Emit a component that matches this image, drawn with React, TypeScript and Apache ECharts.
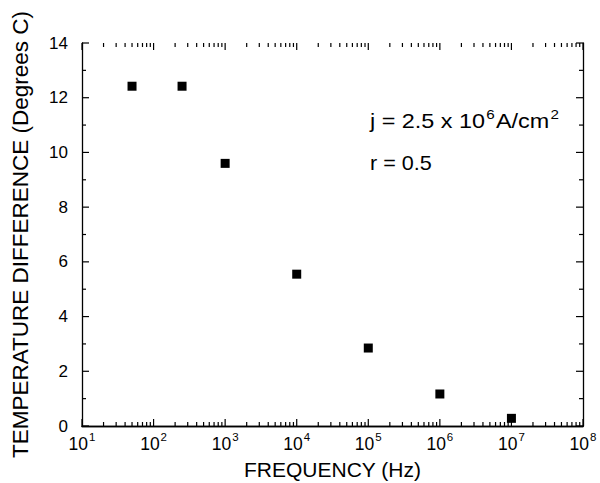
import React, { useEffect, useRef } from "react";
import * as echarts from "echarts";

const frequencies = [50, 250, 1e3, 1e4, 1e5, 1e6, 1e7];
const tempDiff = [12.42, 12.42, 9.6, 5.55, 2.85, 1.17, 0.28];
const minorTickMultipliers = [2, 3, 4, 5, 6, 7, 8, 9];
const decades = [1, 2, 3, 4, 5, 6, 7];
const yTickValues = [0, 1, 2, 3, 4, 5, 6, 7, 8, 9, 10, 11, 12, 13, 14];
const xTitle = "FREQUENCY (Hz)";
const yTitle = "TEMPERATURE DIFFERENCE (Degrees C)";

const FONT = "'Liberation Sans', Arial, Helvetica, sans-serif";
const X_MIN = 10;
const X_MAX = 1e8;
const Y_MIN = 0;
const Y_MAX = 14;

export default function App() {
  const ref = useRef<HTMLDivElement>(null);
  useEffect(() => {
    if (!ref.current) return;
    const chart = echarts.init(ref.current, null, { renderer: "svg" });

    // x ticks: [value, 0, length]
    const xTicks: number[][] = [];
    decades.forEach((d) => {
      xTicks.push([Math.pow(10, d), 0, 7]);
      minorTickMultipliers.forEach((m) => xTicks.push([m * Math.pow(10, d), 0, 4]));
    });
    xTicks.push([Math.pow(10, 8), 0, 7]);
    // y ticks: [xmin, value, length]
    const yTicks: number[][] = yTickValues.map((v) => [X_MIN, v, v % 2 === 0 ? 7 : 4]);

    const axisLine = { show: true, lineStyle: { color: "#000", width: 1.3 } };
    const xBase = {
      type: "log" as const,
      logBase: 10,
      min: X_MIN,
      max: X_MAX,
      splitNumber: 7,
      axisLine,
      axisTick: { show: false },
      splitLine: { show: false },
    };
    const yBase = {
      type: "value" as const,
      min: Y_MIN,
      max: Y_MAX,
      interval: 2,
      axisLine,
      axisTick: { show: false },
      splitLine: { show: false },
    };
    const line = (x1: number, y1: number, x2: number, y2: number) => ({
      type: "line",
      shape: { x1, y1, x2, y2 },
      style: { stroke: "#000", lineWidth: 1.2 },
    });
    chart.setOption({
      animation: false,
      backgroundColor: "#fff",
      textStyle: { fontFamily: FONT },
      grid: { left: 82, right: 17, top: 43, bottom: 57, containLabel: false, outerBoundsMode: "none" },
      xAxis: [
        {
          ...xBase,
          position: "bottom",
          name: xTitle,
          nameLocation: "middle",
          nameGap: 33,
          nameTextStyle: { fontSize: 21, color: "#000", fontFamily: FONT },
          axisLabel: {
            margin: 8,
            color: "#000",
            fontSize: 17,
            fontFamily: FONT,
            formatter: (v: number) => `{b|10}{s|${Math.round(Math.log10(v))}}`,
            rich: {
              b: { fontSize: 17.5, color: "#000", fontFamily: FONT, verticalAlign: "bottom", lineHeight: 19 },
              s: { fontSize: 11.5, color: "#000", fontFamily: FONT, verticalAlign: "bottom", lineHeight: 19, padding: [0, 0, 10, 1] },
            },
          },
        },
        { ...xBase, position: "top", axisLabel: { show: false } },
      ],
      yAxis: [
        {
          ...yBase,
          position: "left",
          name: yTitle,
          nameLocation: "middle",
          nameRotate: 90,
          nameGap: 50,
          nameTextStyle: { fontSize: 22.5, color: "#000", fontFamily: FONT },
          axisLabel: { margin: 14, fontSize: 17, color: "#000", fontFamily: FONT },
        },
        { ...yBase, position: "right", axisLabel: { show: false } },
      ],
      graphic: [
        {
          type: "text",
          left: 370,
          top: 108,
          scaleX: 1.17,
          style: {
            text: "{a|j = 2.5 x 10}{s|6}{a|A/cm}{s|2}",
            rich: {
              a: { fontSize: 20, fill: "#000", fontFamily: FONT, verticalAlign: "bottom", lineHeight: 25 },
              s: { fontSize: 13, fill: "#000", fontFamily: FONT, verticalAlign: "bottom", lineHeight: 25, padding: [0, 1, 10, 1] },
            },
          },
        },
        {
          type: "text",
          left: 370,
          top: 153,
          scaleX: 1.08,
          style: { text: "r = 0.5", fontSize: 20, fill: "#000", fontFamily: FONT },
        },
      ],
      series: [
        {
          type: "scatter",
          xAxisIndex: 0,
          yAxisIndex: 0,
          symbol: "rect",
          symbolSize: 9,
          itemStyle: { color: "#000", opacity: 1 },
          data: frequencies.map((f, i) => [f, tempDiff[i]]),
          z: 10,
        },
        {
          type: "custom",
          xAxisIndex: 0,
          yAxisIndex: 0,
          silent: true,
          clip: false,
          data: xTicks,
          encode: { x: 0, y: 1 },
          renderItem: (_p: any, api: any) => {
            const x = api.value(0);
            const len = api.value(2);
            const b = api.coord([x, Y_MIN]);
            const t = api.coord([x, Y_MAX]);
            return {
              type: "group",
              children: [line(b[0], b[1], b[0], b[1] - len), line(t[0], t[1], t[0], t[1] + len)],
            };
          },
          z: 5,
        },
        {
          type: "custom",
          xAxisIndex: 0,
          yAxisIndex: 0,
          silent: true,
          clip: false,
          data: yTicks,
          encode: { x: 0, y: 1 },
          renderItem: (_p: any, api: any) => {
            const y = api.value(1);
            const len = api.value(2);
            const l = api.coord([X_MIN, y]);
            const r = api.coord([X_MAX, y]);
            return {
              type: "group",
              children: [line(l[0], l[1], l[0] + len, l[1]), line(r[0], r[1], r[0] - len, r[1])],
            };
          },
          z: 5,
        },
      ],
    });
    return () => chart.dispose();
  }, []);
  return (
    <div
      ref={ref}
      style={{ position: "fixed", left: 0, top: 0, width: 600, height: 483, background: "#fff" }}
    />
  );
}
